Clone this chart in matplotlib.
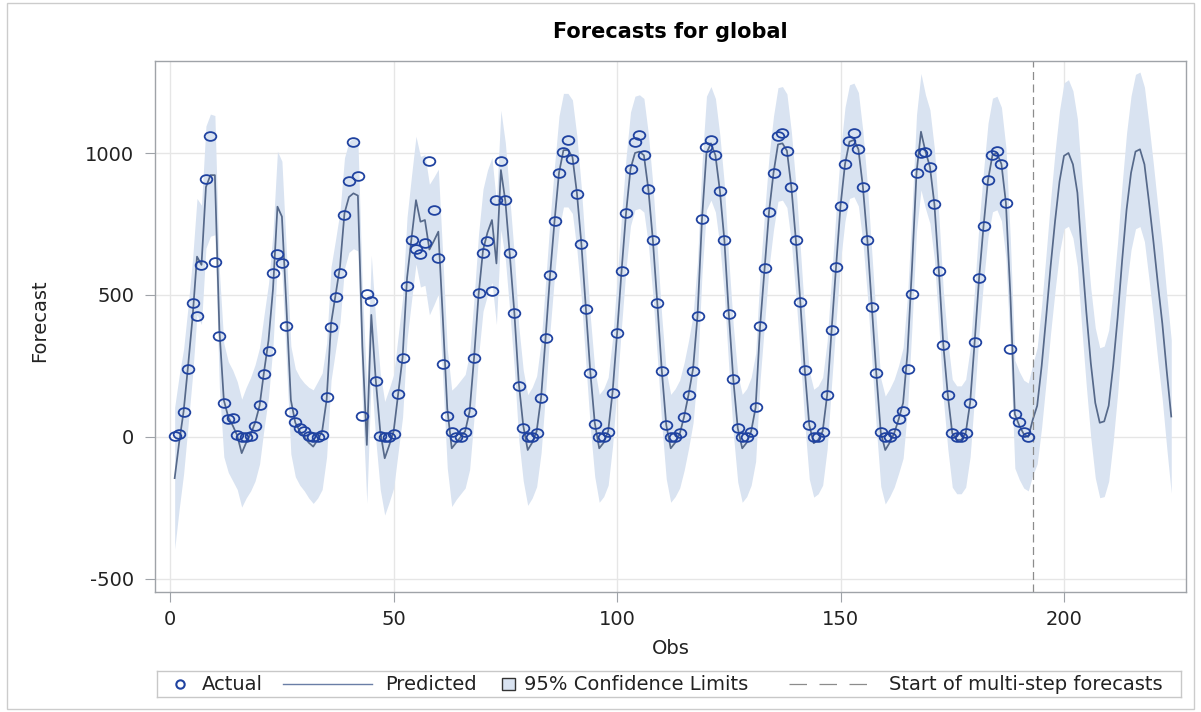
import numpy as np
import matplotlib.pyplot as plt
from matplotlib.path import Path
from matplotlib.patches import Rectangle
from matplotlib.lines import Line2D

plt.rcParams['font.family'] = 'DejaVu Sans'
plt.rcParams['axes.unicode_minus'] = False

# observed series (obs 1..192)
actual = [
    5, 10, 89, 240, 470, 427, 605, 910, 1061, 616, 356, 121, 62, 68, 7, 0,
    0, 3, 39, 111, 220, 304, 576, 644, 611, 392, 89, 54, 30, 20, 5, 0,
    0, 8, 142, 386, 494, 579, 783, 903, 1039, 919, 75, 504, 479, 198, 5, 1,
    0, 10, 151, 277, 532, 694, 661, 644, 684, 972, 799, 631, 256, 74, 19, 1,
    0, 19, 89, 277, 506, 647, 690, 515, 834, 972, 834, 647, 438, 180, 31, 0,
    1, 13, 136, 347, 570, 762, 931, 1003, 1046, 978, 856, 680, 451, 224, 45, 0,
    0, 19, 156, 365, 585, 788, 944, 1040, 1063, 992, 872, 694, 471, 234, 42, 0,
    1, 13, 72, 147, 234, 427, 769, 1020, 1046, 992, 867, 694, 433, 203, 31, 0,
    1, 19, 104, 391, 594, 793, 930, 1060, 1069, 1008, 879, 694, 475, 236, 42, 0,
    1, 19, 147, 377, 600, 815, 961, 1043, 1072, 1013, 881, 694, 459, 224, 16, 1,
    0, 13, 62, 93, 239, 502, 930, 999, 1005, 952, 820, 585, 324, 148, 13, 1,
    0, 13, 121, 333, 559, 743, 905, 993, 1008, 961, 825, 309, 80, 52, 16, 0,
]

# one-step-ahead predictions, then multi-step forecasts (obs 1..224)
predicted = [
    -145, -20, 90, 250, 420, 635, 606, 880, 922, 922, 380, 130, 70, 40, 5, -57,
    -20, 10, 50, 110, 230, 340, 520, 811, 776, 460, 130, 50, 20, 0, -20, -34,
    -10, 20, 130, 400, 500, 600, 788, 845, 858, 850, 320, -28, 430, 200, 20, -75,
    -30, 20, 150, 280, 560, 700, 834, 758, 764, 660, 690, 723, 420, 100, -40, -20,
    0, 20, 90, 280, 500, 658, 720, 764, 611, 940, 830, 640, 440, 190, 40, -46,
    -20, 20, 140, 350, 570, 760, 930, 1010, 1010, 987, 860, 682, 455, 230, 50, -40,
    -20, 20, 160, 365, 585, 788, 944, 1000, 1005, 992, 872, 694, 471, 234, 42, -40,
    -20, 10, 72, 150, 240, 427, 769, 1000, 1034, 992, 867, 694, 433, 203, 31, -40,
    -20, 20, 104, 391, 594, 793, 930, 1030, 1034, 1008, 879, 694, 475, 236, 42, -22,
    -10, 20, 147, 377, 600, 815, 961, 1040, 1046, 1013, 881, 694, 459, 224, 16, -46,
    -20, 13, 62, 120, 300, 600, 930, 1075, 1005, 952, 820, 585, 324, 148, 13, -10,
    -10, 13, 121, 333, 559, 743, 905, 993, 1000, 961, 825, 500, 80, 40, 10, 0,
    60, 110, 250, 420, 600, 760, 900, 990, 1000, 960, 860, 640, 440, 260, 120, 50,
    55, 110, 250, 420, 620, 800, 930, 1005, 1013, 960, 830, 690, 540, 400, 230, 72,
]

# half width of the 95% limits around each prediction
half_width = [
    250, 235, 220, 210, 205, 205, 210, 215, 215, 210, 205, 200, 195, 195, 190, 190,
    195, 200, 205, 205, 200, 200, 200, 195, 195, 195, 190, 190, 190, 190, 195, 200,
    205, 205, 200, 200, 195, 195, 195, 195, 195, 195, 200, 205, 210, 210, 205, 200,
    200, 200, 205, 210, 215, 220, 225, 230, 230, 230, 225, 220, 215, 210, 205, 200,
    200, 200, 205, 210, 215, 215, 220, 220, 215, 210, 205, 200, 200, 200, 195, 195,
    195, 195, 195, 195, 195, 195, 200, 200, 200, 200, 200, 195, 195, 195, 190, 190,
    190, 190, 190, 190, 195, 195, 200, 200, 200, 200, 195, 195, 190, 190, 190, 190,
    190, 190, 190, 190, 190, 195, 195, 200, 200, 200, 195, 195, 190, 190, 190, 190,
    190, 190, 190, 190, 195, 195, 200, 200, 200, 200, 195, 195, 190, 190, 190, 190,
    190, 190, 190, 190, 195, 195, 200, 200, 200, 200, 195, 195, 190, 190, 190, 190,
    190, 190, 190, 195, 200, 205, 205, 205, 200, 200, 195, 195, 190, 190, 190, 190,
    190, 190, 190, 190, 195, 195, 200, 200, 200, 200, 195, 195, 190, 190, 190, 190,
    195, 205, 215, 225, 235, 245, 250, 257, 258, 259, 260, 261, 262, 263, 264, 264,
    265, 266, 267, 268, 269, 270, 271, 272, 272, 272, 272, 271, 271, 270, 270, 270,
]

forecast_start = 193
x_ticks = [0, 50, 100, 150, 200]
y_ticks = [-500, 0, 500, 1000]

obs_act = np.arange(1, len(actual) + 1)
obs_all = np.arange(1, len(predicted) + 1)
pred = np.array(predicted, dtype=float)
hw = np.array(half_width, dtype=float)

W, H = 1201, 712
fig = plt.figure(figsize=(W / 100, H / 100), dpi=100)
fig.patch.set_facecolor('white')
fig.patches.append(Rectangle((7 / W, 3 / H), 1187 / W, 706 / H, transform=fig.transFigure,
                             fill=False, edgecolor='#cccccc', linewidth=1))

ax = fig.add_axes([155 / W, 1 - 592 / H, 1031 / W, 531 / H])
ax.fill_between(obs_all, pred - hw, pred + hw, color='#d9e3f1', linewidth=0, zorder=1)
ax.plot(obs_all, pred, color='#56698a', linewidth=1.25, zorder=2)

circ = Path.unit_circle()
oval = Path(circ.vertices * np.array([1.0, 0.75]), circ.codes)
ax.plot(obs_act, actual, linestyle='none', marker=oval, markersize=8.4,
        markerfacecolor='none', markeredgecolor='#1f42a0', markeredgewidth=1.3, zorder=3)

ax.axvline(forecast_start, color='#8c8c8c', linewidth=0.9, dashes=(6.4, 3.6), zorder=2)

ax.set_xlim(-3.4, 227.3)
ax.set_ylim(-546, 1324)
ax.set_xticks(x_ticks)
ax.set_yticks(y_ticks)
ax.grid(True, color='#e6e6e6', linewidth=1.0, zorder=0)
ax.set_axisbelow(True)
for sp in ax.spines.values():
    sp.set_color('#9fa3a8')
    sp.set_linewidth(1.0)
ax.tick_params(axis='both', colors='#9fa3a8', length=7, width=0.8, labelsize=14,
               labelcolor='#222222')
ax.tick_params(axis='y', pad=8)
ax.tick_params(axis='x', pad=6)

fig.text(670 / W, 1 - 32 / H, 'Forecasts for global', ha='center', va='center',
         fontsize=15, fontweight='bold', color='black')
fig.text(40 / W, 1 - 321 / H, 'Forecast', rotation=90, ha='center', va='center',
         fontsize=14, color='#222222')
fig.text(671 / W, 1 - 648 / H, 'Obs', ha='center', va='center', fontsize=14, color='#222222')

# legend strip along the bottom
lg = fig.add_axes([157 / W, 1 - 697 / H, 1024 / W, 26 / H])
lg.set_xlim(157, 1181)
lg.set_ylim(0, 1)
lg.set_xticks([])
lg.set_yticks([])
for sp in lg.spines.values():
    sp.set_color('#c8c8c8')
    sp.set_linewidth(1.0)
lg.add_line(Line2D([180], [0.5], linestyle='none', marker='o', markersize=6,
                   markerfacecolor='none', markeredgecolor='#1f42a0', markeredgewidth=1.5))
lg.add_line(Line2D([283, 372], [0.5, 0.5], color='#6a7ea6', linewidth=1.0))
lg.add_patch(Rectangle((502, 0.27), 13, 0.46, facecolor='#d9e3f1', edgecolor='#333333',
                       linewidth=1.0))
lg.add_line(Line2D([789, 877], [0.5, 0.5], color='#8c8c8c', linewidth=0.9, dashes=(14, 10)))
for xt, label in [(202, 'Actual'), (385, 'Predicted'), (524, '95% Confidence Limits'),
                  (889, 'Start of multi-step forecasts')]:
    lg.text(xt, 0.5, label, ha='left', va='center', fontsize=14, color='#222222')

fig.savefig('out.png', dpi=100)
